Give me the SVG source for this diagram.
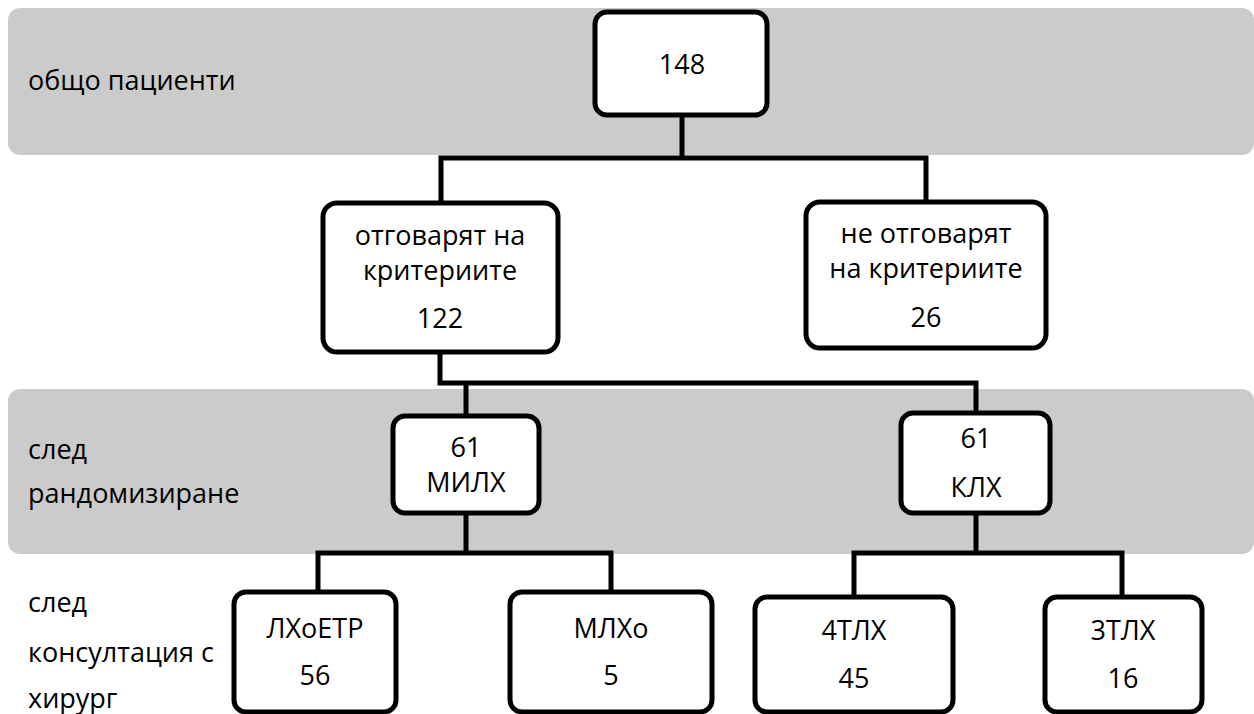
<svg xmlns="http://www.w3.org/2000/svg" width="1254" height="714" viewBox="0 0 1254 714">
<style>
.band{fill:#cbcbcb}
.box{fill:#ffffff;stroke:#000000;stroke-width:5}
.wire{fill:none;stroke:#000000;stroke-width:5;stroke-linejoin:miter}
text{font-family:"Open Sans","Noto Sans",sans-serif;font-size:27px;fill:#000000}
.c{text-anchor:middle}
</style>
<rect width="1254" height="714" fill="#ffffff"/>
<g id="bands">
<rect class="band" x="8" y="8" width="1246" height="147" rx="12"/>
<rect class="band" x="8" y="389" width="1246" height="165" rx="12"/>
</g>
<g id="labels">
<text x="28" y="90">общо пациенти</text>
<text x="28" y="459">след</text>
<text x="28" y="503">рандомизиране</text>
<text x="28" y="612">след</text>
<text x="28" y="662">консултация с</text>
<text x="28" y="708">хирург</text>
</g>
<g id="connectors">
<path class="wire" d="M682 115V158M441 203V158H926V202"/>
<path class="wire" d="M440 352V383H976V413M466 383V416"/>
<path class="wire" d="M466 513V553M318 593V553H611V593"/>
<path class="wire" d="M976 513V553M854 597V553H1122V597"/>
</g>
<g id="n148">
<rect class="box" x="595" y="12" width="172" height="103" rx="12"/>
<text class="c" x="682" y="74">148</text>
</g>
<g id="n122">
<rect class="box" x="323" y="203" width="235" height="149" rx="14"/>
<text class="c" x="440" y="245">отговарят на</text>
<text class="c" x="440" y="280">критериите</text>
<text class="c" x="440" y="328">122</text>
</g>
<g id="n26">
<rect class="box" x="806" y="202" width="240" height="146" rx="14"/>
<text class="c" x="926" y="243">не отговарят</text>
<text class="c" x="926" y="278">на критериите</text>
<text class="c" x="926" y="327">26</text>
</g>
<g id="nMILH">
<rect class="box" x="393" y="416" width="146" height="97" rx="12"/>
<text class="c" x="466" y="457">61</text>
<text class="c" x="466" y="492">МИЛХ</text>
</g>
<g id="nKLH">
<rect class="box" x="901" y="413" width="149" height="100" rx="12"/>
<text class="c" x="976" y="448">61</text>
<text class="c" x="976" y="497">КЛХ</text>
</g>
<g id="nLHoETR">
<rect class="box" x="234" y="592" width="162" height="120" rx="12"/>
<text class="c" x="315" y="638">ЛХоЕТР</text>
<text class="c" x="315" y="685">56</text>
</g>
<g id="nMLHo">
<rect class="box" x="510" y="592" width="202" height="120" rx="12"/>
<text class="c" x="611" y="638">МЛХо</text>
<text class="c" x="611" y="685">5</text>
</g>
<g id="n4TLH">
<rect class="box" x="755" y="597" width="198" height="115" rx="12"/>
<text class="c" x="854" y="640">4ТЛХ</text>
<text class="c" x="854" y="688">45</text>
</g>
<g id="n3TLH">
<rect class="box" x="1045" y="597" width="157" height="115" rx="12"/>
<text class="c" x="1123" y="640">3ТЛХ</text>
<text class="c" x="1123" y="688">16</text>
</g>
</svg>
